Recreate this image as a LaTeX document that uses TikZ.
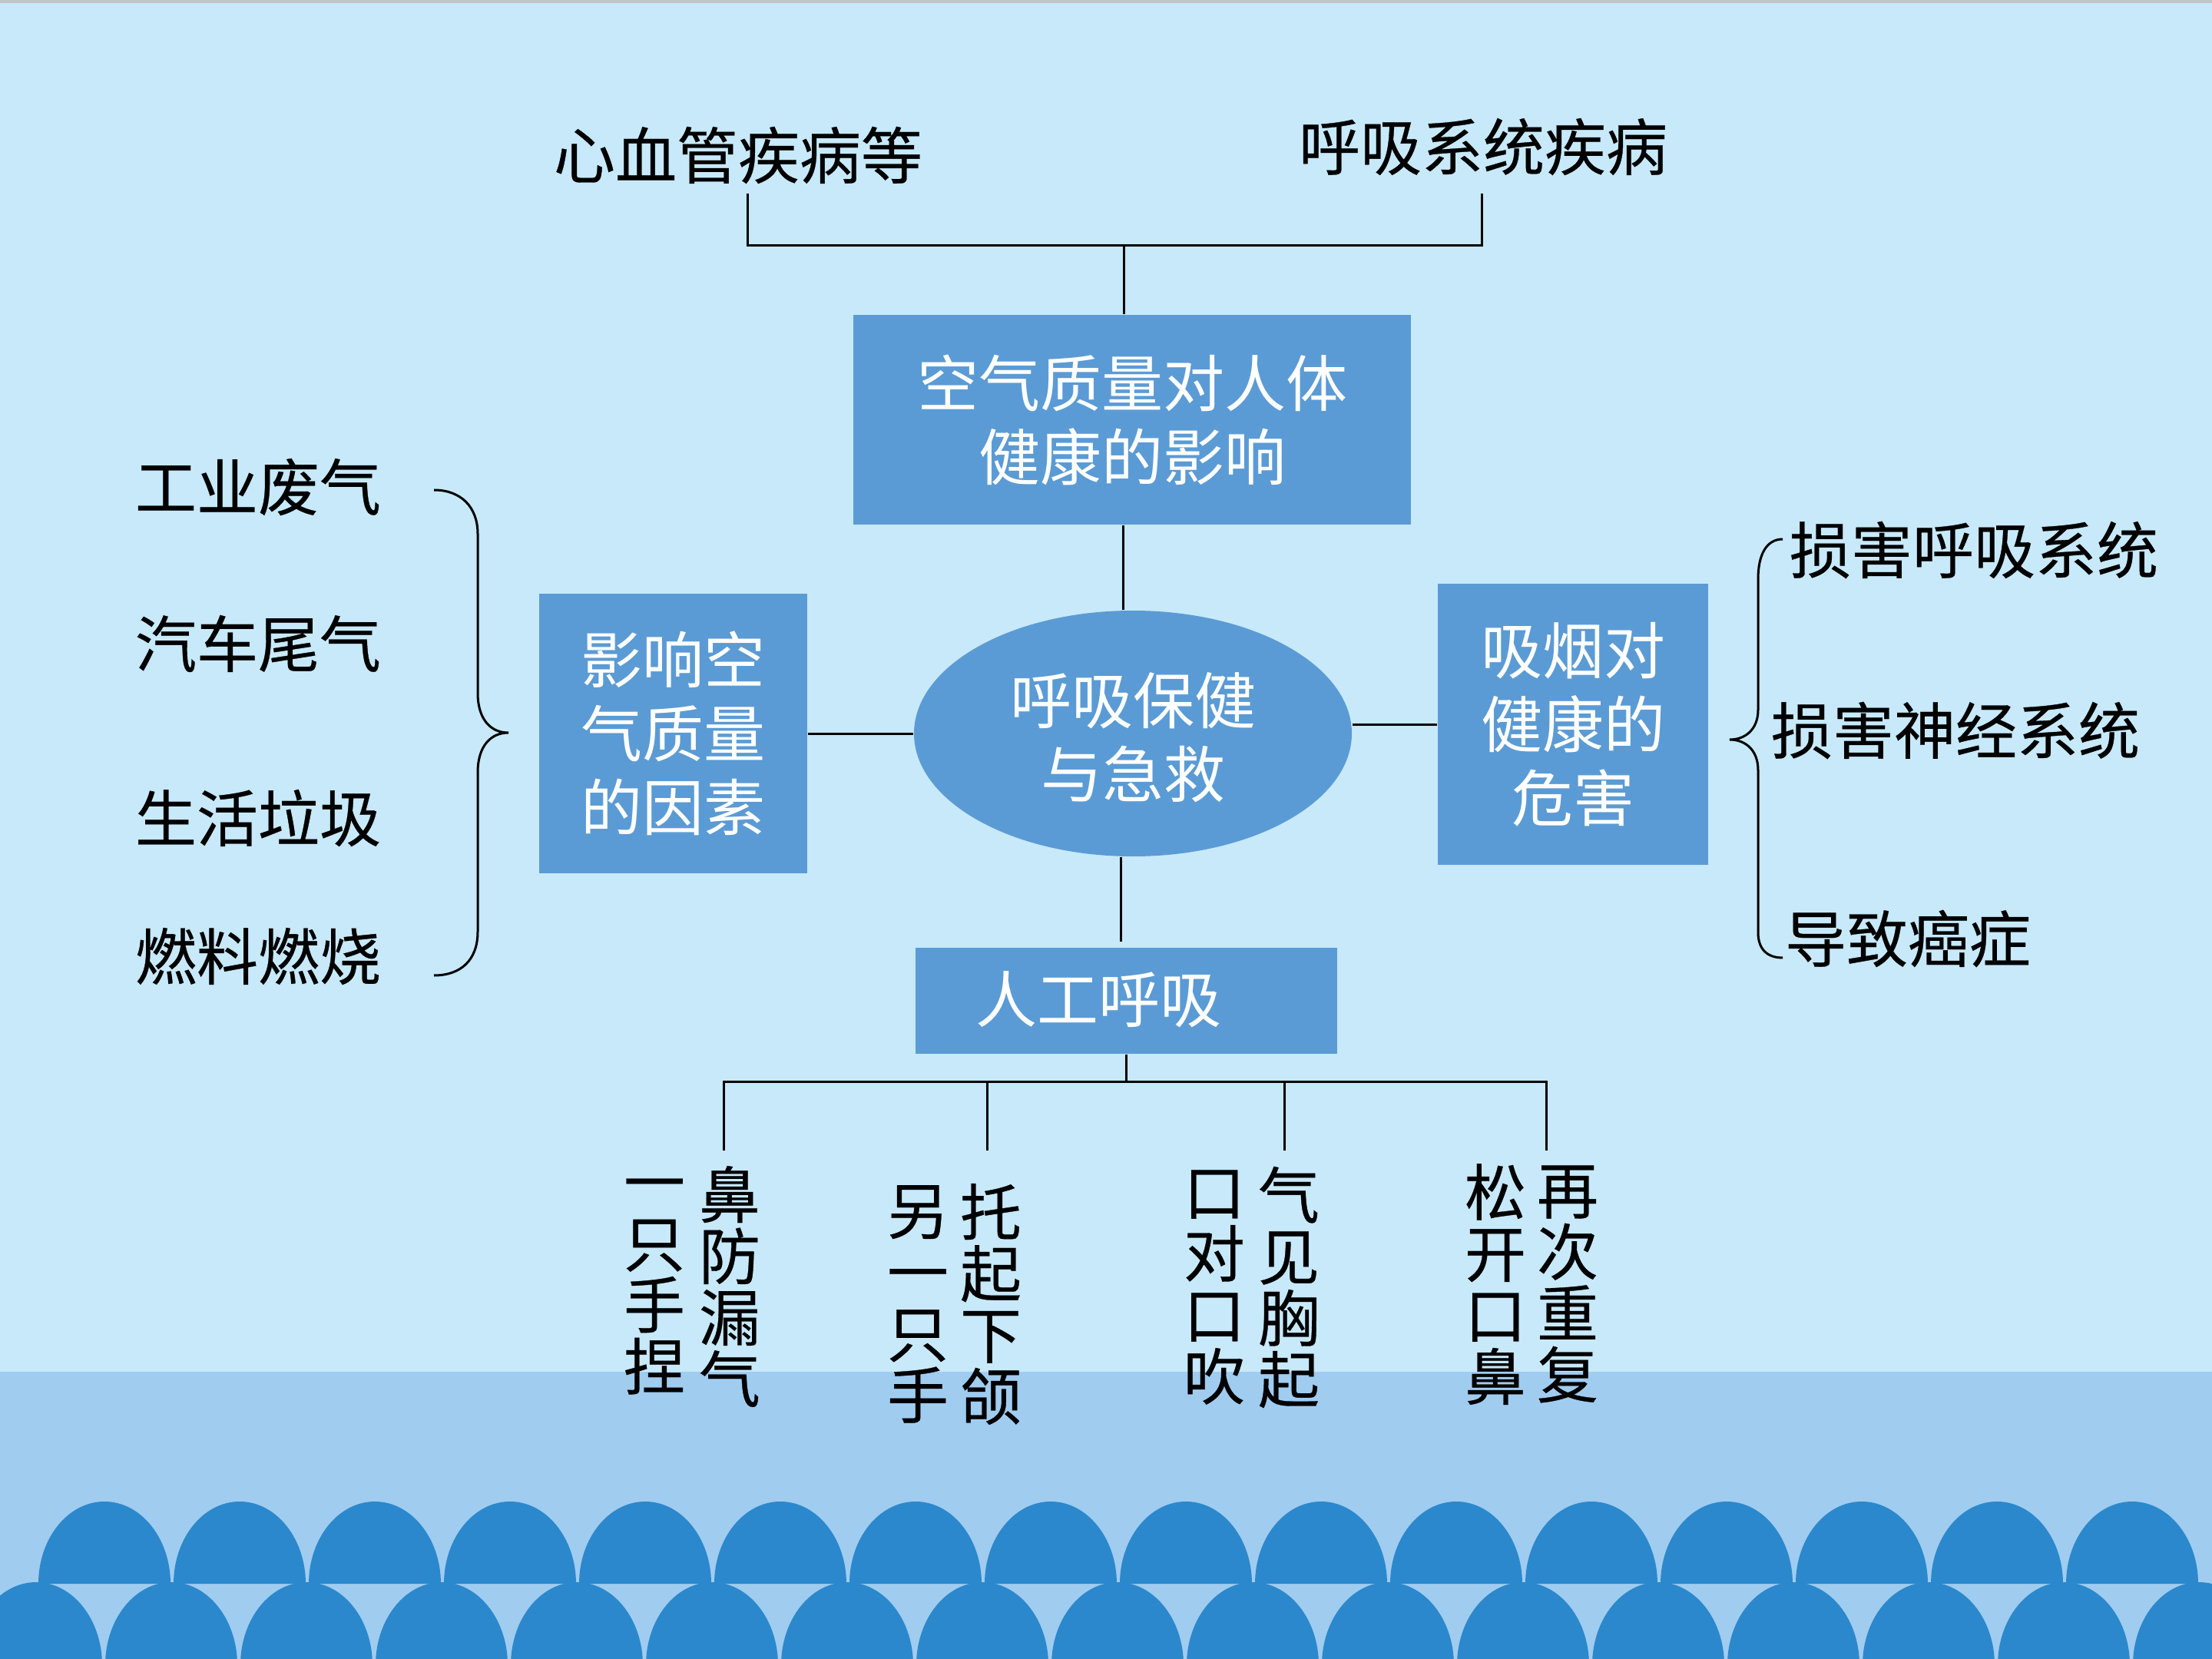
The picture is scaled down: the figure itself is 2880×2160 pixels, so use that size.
\documentclass[tikz,border=0pt]{standalone}
\usepackage{fontspec}
\newfontfamily\cjk{Noto Sans CJK SC}
\newfontfamily\cjkb[UprightFeatures={FakeBold=0.4}]{Noto Sans CJK SC}
\usetikzlibrary{shapes.geometric}
\definecolor{bgl}{HTML}{C7E9FA}
\definecolor{bgd}{HTML}{A0CCF0}
\definecolor{wavec}{HTML}{2B88CC}
\definecolor{boxc}{HTML}{5B9BD5}
\definecolor{topline}{HTML}{C4C4C4}
\begin{document}
\begin{tikzpicture}[x=0.25pt,y=-0.25pt,
  lbl/.style={font=\cjkb\fontsize{20}{24}\selectfont, inner sep=0pt, text=black},
  wlbl/.style={font=\cjk\fontsize{20}{24}\selectfont, inner sep=0pt, text=white, align=center},
  vcol/.style={font=\cjkb\fontsize{20}{20}\selectfont, inner sep=0pt, align=center, text=black},
  conn/.style={line width=0.75pt, draw=black},
  bluebox/.style={fill=boxc, draw=none, inner sep=0pt}]
\useasboundingbox (0,0) rectangle (2880,2160);
% background
\fill[bgl] (0,0) rectangle (2880,2160);
\fill[topline] (0,0) rectangle (2880,4);
\fill[bgd] (0,1786) rectangle (2880,2160);
% waves
\begin{scope}
\clip (0,0) rectangle (2880,2160);
\foreach \i in {0,...,15}{
  \fill[wavec] ({136+176*\i-86},2062) arc[start angle=180,end angle=360,x radius=86,y radius=107] -- cycle;
}
\foreach \i in {0,...,16}{
  \fill[wavec] ({47+176*\i-86},2168) arc[start angle=180,end angle=360,x radius=86,y radius=108] -- cycle;
}
\end{scope}

% top labels
\node[lbl] (t1) at (961,202) {心血管疾病等};
\node[lbl] (t2) at (1931,191) {呼吸系统疾病};
\coordinate (a1) at (973,252);
\coordinate (a2) at (1929,252);
\coordinate (j1) at (1463,320);

% central boxes
\node[bluebox, wlbl, minimum width=181.5pt, minimum height=68.25pt] (b1) at (1474,546.5) {空气质量对人体\\健康的影响};
\node[ellipse, fill=boxc, draw=none, inner sep=0pt, minimum width=142.5pt, minimum height=80pt] (ell) at (1475,955) {};
\node[wlbl] (ellt) at (1475,960) {呼吸保健\\与急救};
\node[bluebox, wlbl, minimum width=87.25pt, minimum height=91pt] (lb) at (876.5,955) {影响空\\气质量\\的因素};
\node[bluebox, wlbl, minimum width=88pt, minimum height=91.5pt] (rb) at (2048,943) {吸烟对\\健康的\\危害};
\node[bluebox, wlbl, minimum width=137.25pt, minimum height=34.5pt] (ai) at (1466.5,1303) {\raisebox{2.5pt}{人工呼吸}\hspace*{18.25pt}};

% top connectors
\draw[conn] (a1) -- (a1 |- j1) -- (a2 |- j1) -- (a2);
\draw[conn] (b1.north -| j1) -- (j1);
\coordinate (c1) at (1462,0);
\draw[conn] (b1.south -| c1) -- (c1 |- ell.north);
\coordinate (c2) at (1459,0);
\draw[conn] (ell.south -| c2) -- ([yshift=1.75pt]ai.north -| c2);
\draw[conn] (lb.east) -- (ell.west);
\draw[conn] (rb.west) -- (rb.west -| ell.east);

% bottom tree
\coordinate (j2) at (1466,1408);
\coordinate (d1) at (942,1498);
\coordinate (d2) at (1285,1498);
\coordinate (d3) at (1672,1498);
\coordinate (d4) at (2013,1498);
\draw[conn] (ai.south -| j2) -- (j2);
\draw[conn] (d1) -- (d1 |- j2) -- (d4 |- j2) -- (d4);
\draw[conn] (d2) -- (d2 |- j2);
\draw[conn] (d3) -- (d3 |- j2);

% vertical texts
\node[vcol] (g1l) at (852,1675) {一\\只\\手\\捏};
\node[vcol] (g1r) at (950,1675) {鼻\\防\\漏\\气};
\node[vcol] (g2l) at (1195,1698) {另\\一\\只\\手};
\node[vcol] (g2r) at (1290,1698) {托\\起\\下\\颌};
\node[vcol] (g3l) at (1581,1676) {口\\对\\口\\吹};
\node[vcol] (g3r) at (1678,1676) {气\\见\\胸\\起};
\node[vcol] (g4l) at (1947,1672) {松\\开\\口\\鼻};
\node[vcol] (g4r) at (2041,1672) {再\\次\\重\\复};

% left labels
\node[lbl] (l1) at (336,634) {工业废气};
\node[lbl] (l2) at (336,838) {汽车尾气};
\node[lbl] (l3) at (336,1065) {生活垃圾};
\node[lbl] (l4) at (336,1245) {燃料燃烧};
\draw[conn] (565,638) .. controls (600,638) and (622,660) .. (622,695) -- (622,902)
  .. controls (622,938) and (640,954) .. (662,954)
  .. controls (640,954) and (622,970) .. (622,1006) -- (622,1213)
  .. controls (622,1250) and (600,1270) .. (565,1270);

% right labels
\node[lbl] (r1) at (2570,716) {损害呼吸系统};
\node[lbl] (r2) at (2546,951) {损害神经系统};
\node[lbl] (r3) at (2484,1222) {导致癌症};
\draw[conn] (2321,702) .. controls (2300,702) and (2289,722) .. (2289,754) -- (2289,924)
  .. controls (2289,950) and (2272,963) .. (2252,963)
  .. controls (2272,963) and (2289,976) .. (2289,1003) -- (2289,1214)
  .. controls (2289,1235) and (2300,1247) .. (2321,1247);
\end{tikzpicture}
\end{document}
